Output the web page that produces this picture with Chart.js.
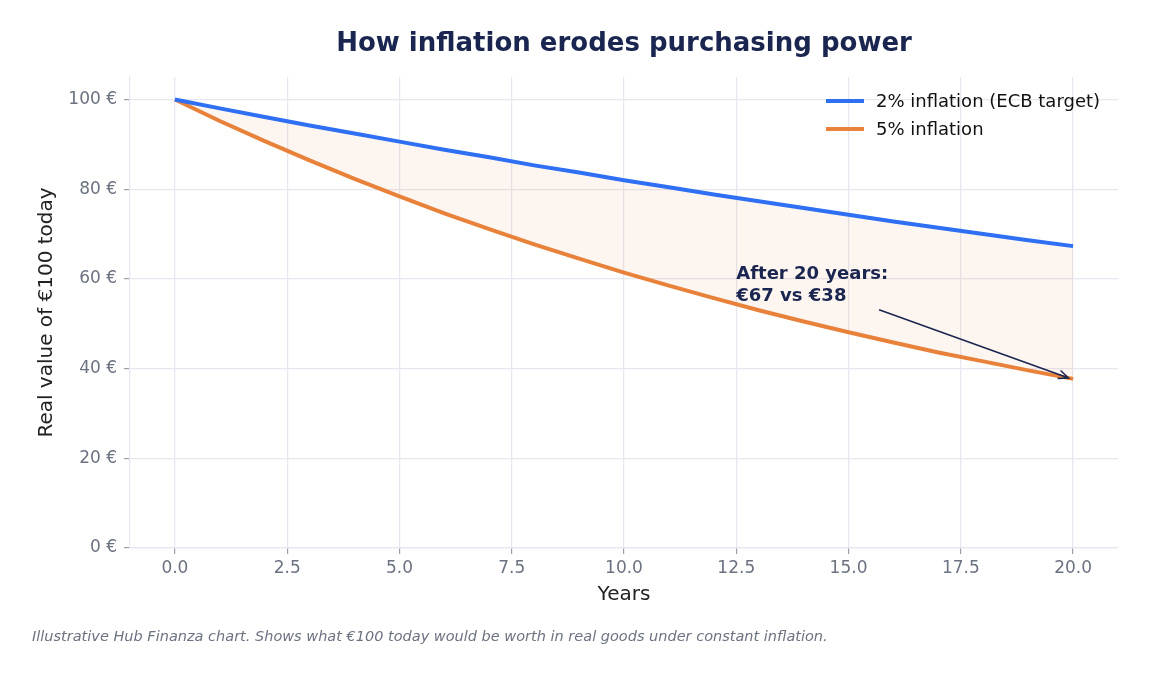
<!DOCTYPE html>
<html>
<head>
<meta charset="utf-8">
<script src="https://cdn.jsdelivr.net/npm/chart.js@4/dist/chart.umd.min.js"></script>
<style>
  html, body { margin: 0; padding: 0; background: #fff; }
  #wrap { width: 1150px; height: 676px; }
</style>
</head>
<body>
<div id="wrap"><canvas id="chart" width="1150" height="676"></canvas></div>
<script>
// values (real value of 100 EUR after n years)
const years = [0, 1, 2, 3, 4, 5, 6, 7, 8, 9, 10, 11, 12, 13, 14, 15, 16, 17, 18, 19, 20];
const lowInflation = [100, 98.0, 96.1, 94.2, 92.4, 90.6, 88.8, 87.1, 85.3, 83.7, 82.0,
                      80.4, 78.8, 77.3, 75.8, 74.3, 72.8, 71.4, 70.0, 68.6, 67.3];
const highInflation = [100, 95.2, 90.7, 86.4, 82.3, 78.4, 74.6, 71.1, 67.7, 64.5, 61.4,
                       58.5, 55.7, 53.0, 50.5, 48.1, 45.8, 43.6, 41.6, 39.6, 37.7];
const xTickValues = [0, 2.5, 5, 7.5, 10, 12.5, 15, 17.5, 20];
const yTickValues = [0, 20, 40, 60, 80, 100];
const seriesLabels = ["2% inflation (ECB target)", "5% inflation"];

const BLUE = "#2f6ff3";
const ORANGE = "#e8823a";
const NAVY = "#1a2550";
const GRID = "#e6e7ef";
const FONT = "'DejaVu Sans', sans-serif";

// title, legend, axis titles, annotation and footer
const decorations = {
    id: "decorations",
    afterDraw(chart) {
        const { ctx, chartArea, scales } = chart;
        const x = scales.x, y = scales.y;
        ctx.save();

        ctx.fillStyle = NAVY;
        ctx.font = "bold 26px " + FONT;
        ctx.textAlign = "center";
        ctx.textBaseline = "middle";
        ctx.fillText("How inflation erodes purchasing power", (chartArea.left + chartArea.right) / 2, 44);

        // axis titles
        ctx.fillStyle = "#222";
        ctx.font = "20px " + FONT;
        ctx.fillText("Years", (chartArea.left + chartArea.right) / 2, 595);
        ctx.save();
        ctx.translate(47, (chartArea.top + chartArea.bottom) / 2);
        ctx.rotate(-Math.PI / 2);
        ctx.fillText("Real value of €100 today", 0, 0);
        ctx.restore();

        // legend
        const colors = [BLUE, ORANGE];
        ctx.font = "18px " + FONT;
        ctx.textAlign = "left";
        seriesLabels.forEach((lab, i) => {
            const ly = 101 + i * 28;
            ctx.strokeStyle = colors[i];
            ctx.lineWidth = 4;
            ctx.beginPath();
            ctx.moveTo(826, ly);
            ctx.lineTo(864, ly);
            ctx.stroke();
            ctx.fillStyle = "#111";
            ctx.fillText(lab, 876, ly + 1);
        });

        // annotation
        ctx.fillStyle = NAVY;
        ctx.font = "bold 18px " + FONT;
        ctx.fillText("After 20 years:", x.getPixelForValue(12.5), y.getPixelForValue(60.9));
        ctx.fillText("€67 vs €38", x.getPixelForValue(12.5), y.getPixelForValue(56.2));

        const x0 = x.getPixelForValue(15.68), y0 = y.getPixelForValue(53.1);
        const x1 = x.getPixelForValue(19.9), y1 = y.getPixelForValue(37.9);
        ctx.strokeStyle = NAVY;
        ctx.lineWidth = 1.5;
        ctx.beginPath();
        ctx.moveTo(x0, y0);
        ctx.lineTo(x1, y1);
        const ang = Math.atan2(y1 - y0, x1 - x0);
        const head = 11;
        ctx.moveTo(x1 - head * Math.cos(ang - 0.4), y1 - head * Math.sin(ang - 0.4));
        ctx.lineTo(x1, y1);
        ctx.lineTo(x1 - head * Math.cos(ang + 0.4), y1 - head * Math.sin(ang + 0.4));
        ctx.stroke();

        // footer
        ctx.fillStyle = "#6b7280";
        ctx.font = "italic 14.5px " + FONT;
        ctx.fillText("Illustrative Hub Finanza chart. Shows what €100 today would be worth in real goods under constant inflation.", 32, 637);

        ctx.restore();
    }
};

new Chart(document.getElementById("chart"), {
    type: "line",
    data: {
        labels: years,
        datasets: [
            {
                label: seriesLabels[0],
                data: years.map((t, i) => ({ x: t, y: lowInflation[i] })),
                borderColor: BLUE,
                borderWidth: 4,
                pointRadius: 0,
                fill: false,
                order: 1
            },
            {
                label: seriesLabels[1],
                data: years.map((t, i) => ({ x: t, y: highInflation[i] })),
                borderColor: ORANGE,
                backgroundColor: "rgba(232, 130, 58, 0.08)",
                borderWidth: 4,
                pointRadius: 0,
                fill: "-1",
                order: 2
            }
        ]
    },
    options: {
        responsive: false,
        animation: false,
        layout: { padding: { left: 30, right: 32, top: 77, bottom: 58 } },
        plugins: {
            legend: { display: false },
            title: { display: false },
            tooltip: { enabled: false },
            filler: { drawTime: "beforeDatasetsDraw" }
        },
        scales: {
            x: {
                type: "linear",
                min: -1,
                max: 21,
                afterFit: s => { s.height = 70; },
                afterBuildTicks: s => { s.ticks = xTickValues.map(v => ({ value: v })); },
                grid: { color: GRID, lineWidth: 1.2, tickLength: 6, tickColor: "#9aa0aa" },
                border: { color: GRID, width: 1.2 },
                ticks: {
                    color: "#6b7280",
                    font: { family: FONT, size: 17 },
                    padding: 4,
                    maxRotation: 0,
                    callback: v => Number(v).toFixed(1)
                }
            },
            y: {
                min: 0,
                max: 105,
                afterFit: s => { s.width = 100; },
                afterBuildTicks: s => { s.ticks = yTickValues.map(v => ({ value: v })); },
                grid: { color: GRID, lineWidth: 1.2, tickLength: 6, tickColor: "#9aa0aa" },
                border: { color: GRID, width: 1.2 },
                ticks: {
                    color: "#6b7280",
                    font: { family: FONT, size: 17 },
                    padding: 7,
                    callback: v => v + " €"
                }
            }
        }
    },
    plugins: [decorations]
});
</script>
</body>
</html>
